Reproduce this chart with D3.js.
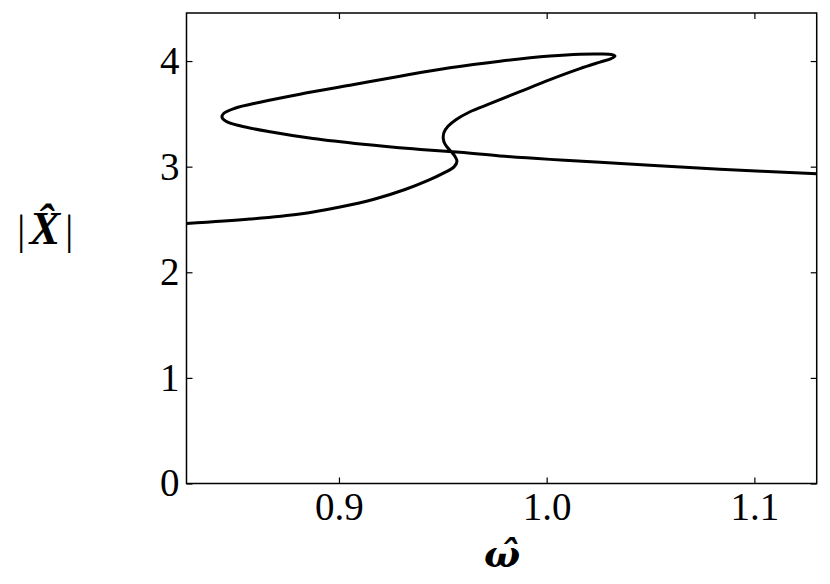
<!DOCTYPE html>
<html><head><meta charset="utf-8">
<script src="https://cdn.jsdelivr.net/npm/d3@7"></script>
<style>body{margin:0;background:#fff}svg{display:block}</style>
</head><body>
<svg id="c" width="830" height="584"></svg>
<script>
const xTicks = [0.9, 1.0, 1.1];
const yTicks = [0, 1, 2, 3, 4];
const xDomain = [0.8266, 1.1300];
const yDomain = [0, 4.455];
// frequency (omega hat) and amplitude |X hat| along the response curve
const omega = [0.8266,0.8571,0.8812,0.9005,0.9173,0.9318,0.9429,0.9510,0.9554,0.9568,0.9558,0.9534,0.9510,0.9502,0.9506,0.9525,0.9563,0.9631,0.9727,0.9871,1.0016,1.0160,1.0257,1.0310,1.0329,1.0315,1.0257,1.0160,1.0016,0.9775,0.9534,0.9294,0.9053,0.8812,0.8620,0.8499,0.8446,0.8437,0.8456,0.8523,0.8668,0.8875,0.9116,0.9356,0.9583,0.9775,1.0016,1.0257,1.0497,1.0834,1.1301];
const amp = [2.462,2.504,2.552,2.618,2.694,2.784,2.870,2.946,2.998,3.050,3.098,3.155,3.216,3.268,3.325,3.382,3.444,3.520,3.596,3.710,3.824,3.928,3.990,4.023,4.047,4.061,4.067,4.065,4.047,3.999,3.937,3.857,3.771,3.686,3.610,3.553,3.506,3.468,3.430,3.387,3.330,3.266,3.212,3.169,3.136,3.102,3.069,3.041,3.014,2.976,2.932];

const W = 830, H = 584;
const m = {left:186.5, right:W-816.7, top:13, bottom:H-483.5};
const svg = d3.select("#c");
const x = d3.scaleLinear().domain(xDomain).range([m.left, W-m.right]);
const y = d3.scaleLinear().domain(yDomain).range([H-m.bottom, m.top]);
const font = "'Liberation Serif', 'DejaVu Serif', serif";

svg.append("clipPath").attr("id","clp").append("rect")
  .attr("x", m.left).attr("y", m.top).attr("width", x.range()[1]-m.left).attr("height", y.range()[0]-m.top);

const pts = omega.map((w,i)=>[w, amp[i]]);
svg.append("path").datum(pts)
  .attr("clip-path","url(#clp)")
  .attr("fill","none").attr("stroke","#000").attr("stroke-width",3)
  .attr("stroke-linejoin","round")
  .attr("d", d3.line().x(d=>x(d[0])).y(d=>y(d[1])).curve(d3.curveCatmullRom.alpha(0.5)));

function styleAxis(g){
  g.select(".domain").remove();
  g.selectAll(".tick line").attr("stroke","#000").attr("stroke-width",1.2);
  g.selectAll("text").attr("font-family",font).attr("font-size",39).attr("fill","#000");
}
svg.append("g").attr("transform",`translate(0,${y(0)})`)
  .call(d3.axisBottom(x).tickValues(xTicks).tickSize(-6).tickPadding(9).tickFormat(d3.format(".1f")))
  .call(styleAxis);
svg.append("g").attr("transform",`translate(0,${m.top})`)
  .call(d3.axisTop(x).tickValues(xTicks).tickSize(-6).tickFormat(""))
  .call(styleAxis);
svg.append("g").attr("transform",`translate(${m.left},0)`)
  .call(d3.axisLeft(y).tickValues(yTicks).tickSize(-6).tickPadding(7).tickFormat(d3.format("d")))
  .call(styleAxis);
svg.append("g").attr("transform",`translate(${x.range()[1]},0)`)
  .call(d3.axisRight(y).tickValues(yTicks).tickSize(-6).tickFormat(""))
  .call(styleAxis);

svg.append("rect").attr("x",m.left).attr("y",m.top)
  .attr("width",x.range()[1]-m.left).attr("height",y.range()[0]-m.top)
  .attr("fill","none").attr("stroke","#000").attr("stroke-width",1.5);

// x label: bold italic omega with hat
svg.append("text").attr("x",502).attr("y",567).attr("text-anchor","middle")
  .attr("font-family","'DejaVu Serif', serif").attr("font-size",38)
  .attr("font-weight","bold").attr("font-style","italic").attr("fill","#000")
  .text("\u03C9\u0302");

// y label: |X hat|
const yl = svg.append("text").attr("x",17).attr("y",244).attr("font-family",font).attr("font-size",42);
yl.append("tspan").text("|");
yl.append("tspan").attr("font-weight","bold").attr("font-style","italic").attr("font-size",46).attr("dx",4).text("X\u0302");
yl.append("tspan").attr("dx",5).text("|");
</script>
</body></html>
